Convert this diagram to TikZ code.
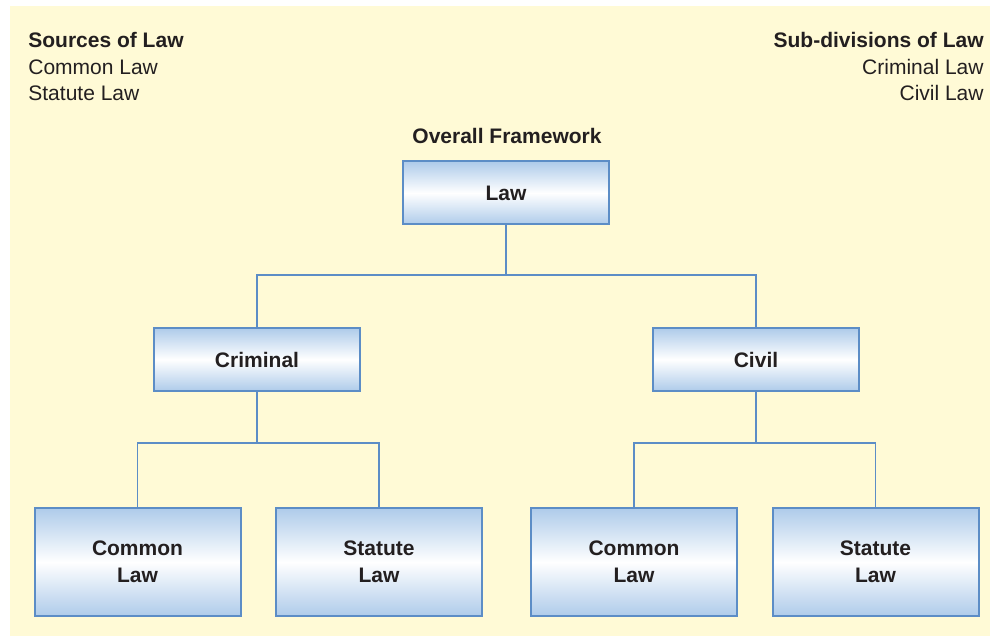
\documentclass[tikz,border=0pt]{standalone}
\usepackage{fontspec}
\setmainfont{Liberation Sans}
\definecolor{bgyellow}{RGB}{255,250,214}
\definecolor{boxblue}{RGB}{174,203,234}
\definecolor{edgeblue}{RGB}{92,141,198}
\definecolor{inkdark}{RGB}{35,31,32}
\begin{document}
\begin{tikzpicture}[x=0.5pt,y=-0.5pt,
  every node/.style={text=inkdark,font=\fontsize{10.5}{13.5}\selectfont},
  sidetext/.style={inner sep=0pt},
  lawbox/.style={draw=edgeblue,line width=1pt,top color=boxblue,bottom color=boxblue,middle color=white,
    minimum width=103pt,inner sep=0pt,align=center,font=\fontsize{10.5}{13.5}\selectfont\bfseries},
  smallbox/.style={lawbox,minimum height=31.5pt},
  bigbox/.style={lawbox,minimum height=54pt},
  link/.style={draw=edgeblue,line width=0.75pt}]
\useasboundingbox (0,0) rectangle (990,636);
\fill[white] (0,0) rectangle (990,636);
\fill[bgyellow] (10,6) rectangle (990,636);

\node[sidetext,anchor=west,font=\fontsize{10.5}{13.5}\selectfont\bfseries] (srcT) at (28,40) {Sources of Law};
\node[sidetext,anchor=west] (src1) at (28,67) {Common Law};
\node[sidetext,anchor=west] (src2) at (28,93) {Statute Law};
\node[sidetext,anchor=east,font=\fontsize{10.5}{13.5}\selectfont\bfseries] (subT) at (984,40) {Sub-divisions of Law};
\node[sidetext,anchor=east] (sub1) at (984,67) {Criminal Law};
\node[sidetext,anchor=east] (sub2) at (984,93) {Civil Law};
\node[font=\fontsize{10.5}{13.5}\selectfont\bfseries] (fw) at (507,136) {Overall Framework};

\node[smallbox] (law) at (506,193) {Law};
\node[smallbox] (crim) at (257,359.5) {Criminal};
\node[smallbox] (civ) at (756,359.5) {Civil};
\node[bigbox] (cl1) at (137.5,562) {Common\\Law};
\node[bigbox] (sl1) at (379,562) {Statute\\Law};
\node[bigbox] (cl2) at (634,562) {Common\\Law};
\node[bigbox] (sl2) at (875.5,562) {Statute\\Law};

\coordinate (j1) at (506,275);
\coordinate (j2) at (257,443);
\coordinate (j3) at (756,443);

\draw[link] (law.south) -- (j1);
\draw[link] (crim.north) |- (j1) -| (civ.north);
\draw[link] (crim.south) -- (j2);
\draw[link] (cl1.north) |- (j2) -| (sl1.north);
\draw[link] (civ.south) -- (j3);
\draw[link] (cl2.north) |- (j3) -| (sl2.north);
\end{tikzpicture}
\end{document}
